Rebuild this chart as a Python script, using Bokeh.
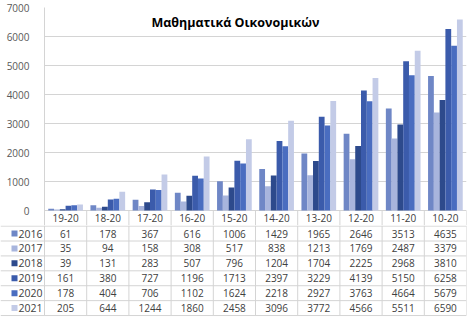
from bokeh.plotting import figure
from bokeh.models import Range1d, FixedTicker, Label
from bokeh.core.properties import value
from bokeh.embed import file_html
from bokeh.resources import INLINE

# ---- data ----
categories = ["19-20", "18-20", "17-20", "16-20", "15-20", "14-20", "13-20", "12-20", "11-20", "10-20"]
years = ["2016", "2017", "2018", "2019", "2020", "2021"]
s2016 = [61, 178, 367, 616, 1006, 1429, 1965, 2646, 3513, 4635]
s2017 = [35, 94, 158, 308, 517, 838, 1213, 1769, 2487, 3379]
s2018 = [39, 131, 283, 507, 796, 1204, 1704, 2225, 2968, 3810]
s2019 = [161, 380, 727, 1196, 1713, 2397, 3229, 4139, 5150, 6258]
s2020 = [178, 404, 706, 1102, 1624, 2218, 2927, 3763, 4664, 5679]
s2021 = [205, 644, 1244, 1860, 2458, 3096, 3772, 4566, 5511, 6590]
y_ticks = [0, 1000, 2000, 3000, 4000, 5000, 6000, 7000]
title_text = "Μαθηματικά Οικονομικών"

series = [s2016, s2017, s2018, s2019, s2020, s2021]
colors = ["#6f87c6", "#a8b5dd", "#2d4a8c", "#3b5bab", "#4a6dc0", "#c3cbe7"]

W = 468
LEFT = 44
RIGHT = 2
FONT = "Open Sans"
GRID = "#d4d4d4"
TXT = "#404040"
ROW_PX = 15.0

n = len(categories)
col_px = (W - LEFT - RIGHT) / n

# ---- chart (with the header row of the data table) ----
TOP_H = 225
TOP_B = 7
frame_h = TOP_H - TOP_B
ymax = y_ticks[-1]
hdr = ymax * ROW_PX / (frame_h - ROW_PX)
ppu = frame_h / (ymax + hdr)

p = figure(width=W, height=TOP_H, output_backend="svg", toolbar_location=None,
           x_range=Range1d(0, n), y_range=Range1d(-hdr, ymax),
           min_border_left=LEFT, min_border_right=RIGHT, min_border_top=TOP_B, min_border_bottom=0)
p.outline_line_color = None
p.xaxis.visible = False
p.xgrid.visible = False
p.ygrid.grid_line_color = GRID
p.ygrid.ticker = FixedTicker(ticks=y_ticks)
p.yaxis.ticker = FixedTicker(ticks=y_ticks)
p.yaxis.axis_line_color = GRID
p.yaxis.major_tick_line_color = None
p.yaxis.minor_tick_line_color = None
p.yaxis.major_label_text_font = FONT
p.yaxis.major_label_text_font_size = "10px"
p.yaxis.major_label_text_color = "#595959"
p.yaxis.major_label_standoff = 9

bw = 0.137
for j, (yr, vals, c) in enumerate(zip(years, series, colors)):
    xs = [i + 0.5 + (j - 2.5) * bw for i in range(n)]
    p.vbar(x=xs, top=vals, width=bw, bottom=0, fill_color=c, line_color=None)

# header row: column separators and category names
p.segment(x0=list(range(1, n + 1)), y0=[-hdr] * n, x1=list(range(1, n + 1)), y1=[0] * n,
          line_color=GRID, line_width=1)
p.text(x=[i + 0.5 for i in range(n)], y=[-hdr / 2] * n, text=categories,
       text_font=value(FONT), text_font_size="10px", text_color=TXT,
       text_align="center", text_baseline="middle")

p.add_layout(Label(x=(235 - LEFT) / col_px, y=ymax - 15 / ppu, text=title_text, text_font=FONT,
                   text_font_size="12.5px", text_font_style="bold", text_color="#000000",
                   text_align="center", text_baseline="middle"))

# ---- data table rows (own plot, frame spans the full width) ----
nrows = len(years)
BOT_H = 321 - TOP_H
pad = (BOT_H - nrows * ROW_PX) / ROW_PX
x0 = -LEFT / col_px
t = figure(width=W, height=BOT_H, output_backend="svg", toolbar_location=None,
           x_range=Range1d(x0, n), y_range=Range1d(-pad, nrows + 0.04),
           min_border_left=0, min_border_right=RIGHT, min_border_top=0, min_border_bottom=0)
t.outline_line_color = None
t.xaxis.visible = False
t.yaxis.visible = False
t.grid.visible = False

centers = [nrows - 0.5 - j for j in range(nrows)]
bounds = list(range(nrows + 1))

# vertical lines
t.segment(x0=list(range(n + 1)), y0=[0] * (n + 1), x1=list(range(n + 1)), y1=[nrows + 0.04] * (n + 1),
          line_color=GRID, line_width=1)
# horizontal lines
t.segment(x0=[x0] * len(bounds), y0=bounds, x1=[n] * len(bounds), y1=bounds,
          line_color=GRID, line_width=1)

for j, (yr, vals, c) in enumerate(zip(years, series, colors)):
    ry = centers[j]
    t.text(x=[i + 0.5 for i in range(n)], y=[ry] * n, text=[str(v) for v in vals],
           text_font=value(FONT), text_font_size="10px", text_color=TXT,
           text_align="center", text_baseline="middle")
    t.scatter(x=[x0 + 14 / col_px], y=[ry], marker="square", size=6, fill_color=c, line_color=None)
    t.text(x=[x0 + 18 / col_px], y=[ry], text=[yr],
           text_font=value(FONT), text_font_size="10.5px", text_color=TXT,
           text_align="left", text_baseline="middle")

open("out.html", "w").write(file_html([p, t], INLINE))
